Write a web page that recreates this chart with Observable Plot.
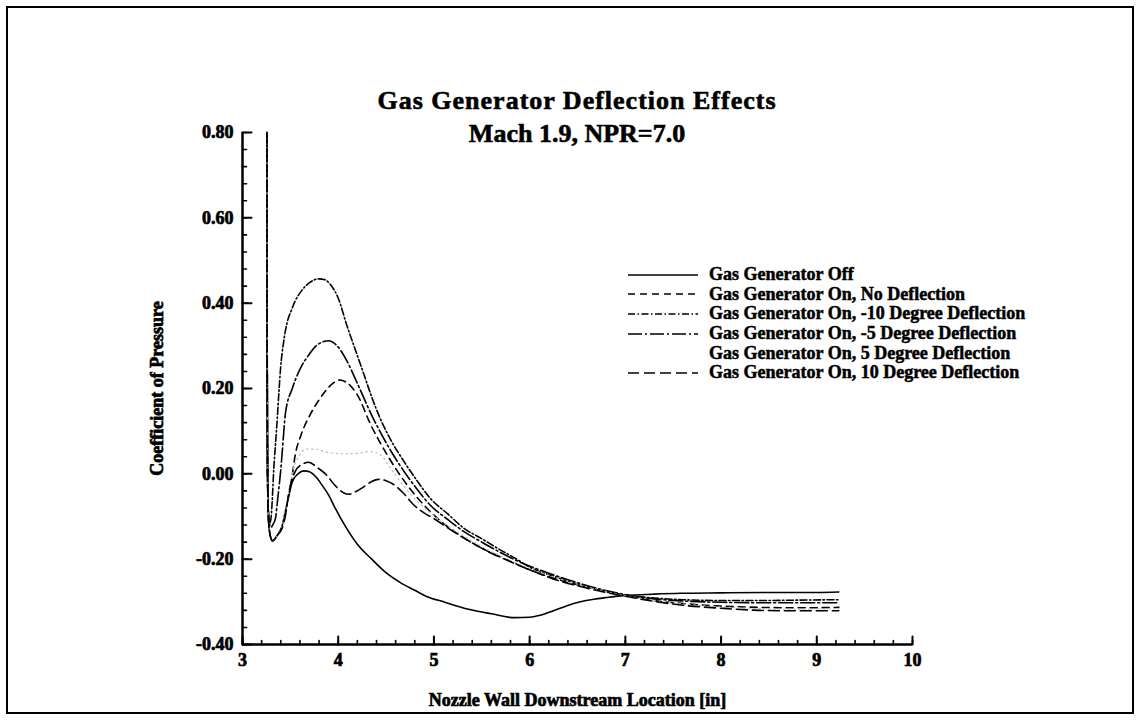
<!DOCTYPE html>
<html>
<head>
<meta charset="utf-8">
<script src="https://cdn.jsdelivr.net/npm/d3@7"></script>
<script src="https://cdn.jsdelivr.net/npm/@observablehq/plot@0.6"></script>
<style>
  html, body { margin: 0; padding: 0; background: #fff; }
  #page { position: relative; width: 1145px; height: 725px; overflow: hidden; background: #fff;
          font-family: "Liberation Serif", "DejaVu Serif", serif; color: #000; }
  #frame { position: absolute; left: 6px; top: 6px; width: 1128px; height: 708px; border: 2.5px solid #000; box-sizing: border-box; }
  .title { position: absolute; left: 242px; width: 670px; text-align: center; font-weight: bold;
           font-size: 26px; line-height: 26px; -webkit-text-stroke: 0.6px #000; white-space: nowrap; }
  #chart { position: absolute; left: 0; top: 115px; }
  #chart svg text { font-weight: bold; paint-order: stroke; stroke: #000; stroke-width: 0.7px; }
  #legend { position: absolute; left: 628px; top: 265px; }
  .row { display: flex; align-items: center; height: 19.6px; }
  .row span { margin-left: 11px; font-size: 18px; font-weight: bold; -webkit-text-stroke: 0.5px #000; white-space: nowrap; }
</style>
</head>
<body>
<div id="page">
  <div id="frame"></div>
  <div class="title" style="top:88px; letter-spacing:1px">Gas Generator Deflection Effects</div>
  <div class="title" style="top:121px">Mach 1.9, NPR=7.0</div>
  <div id="chart"></div>
  <div id="legend"></div>
</div>
<script>
// ---- Data ----
const seriesNames = [
  "Gas Generator Off",
  "Gas Generator On, No Deflection",
  "Gas Generator On, -10 Degree Deflection",
  "Gas Generator On, -5 Degree Deflection",
  "Gas Generator On, 5 Degree Deflection",
  "Gas Generator On, 10 Degree Deflection"
];

const xOff = [3.255,3.258,3.262,3.27,3.29,3.315,3.34,3.37,3.41,3.47,3.52,3.58,3.64,3.70,3.77,3.83,3.90,3.97,4.08,4.20,4.35,4.48,4.65,4.80,4.93,5.10,5.35,5.60,5.84,6.00,6.12,6.25,6.39,6.53,6.67,6.80,6.95,7.10,7.30,7.58,8.00,8.50,9.00,9.23];
const yOff = [0.80,0.30,0.00,-0.10,-0.145,-0.157,-0.152,-0.142,-0.125,-0.065,-0.019,0.0,0.007,0.005,-0.008,-0.026,-0.05,-0.081,-0.125,-0.165,-0.20,-0.228,-0.255,-0.273,-0.288,-0.300,-0.317,-0.328,-0.337,-0.336,-0.331,-0.321,-0.309,-0.300,-0.294,-0.290,-0.286,-0.284,-0.282,-0.280,-0.279,-0.278,-0.278,-0.277];

const xNoDef = [3.255,3.258,3.262,3.27,3.29,3.315,3.34,3.37,3.41,3.47,3.52,3.55,3.61,3.71,3.79,3.87,3.95,4.02,4.10,4.20,4.34,4.51,4.72,4.96,5.15,5.35,5.55,5.75,6.00,6.30,6.60,7.00,7.30,7.60,8.00,8.40,8.80,9.23];
const yNoDef = [0.80,0.30,0.00,-0.10,-0.145,-0.157,-0.152,-0.142,-0.125,-0.065,-0.003,0.043,0.09,0.14,0.17,0.195,0.213,0.22,0.212,0.185,0.115,0.045,-0.026,-0.088,-0.125,-0.155,-0.18,-0.2,-0.225,-0.248,-0.266,-0.285,-0.297,-0.304,-0.310,-0.313,-0.314,-0.313];

const xMinus10 = [3.255,3.258,3.262,3.27,3.285,3.30,3.31,3.327,3.345,3.363,3.38,3.397,3.43,3.467,3.51,3.55,3.62,3.70,3.80,3.86,3.92,4.00,4.09,4.18,4.27,4.35,4.44,4.56,4.69,4.82,4.96,5.15,5.31,5.50,5.66,5.85,6.01,6.25,6.50,6.75,7.00,7.30,7.60,8.00,8.40,8.80,9.23];
const yMinus10 = [0.80,0.30,0.00,-0.08,-0.115,-0.10,-0.065,0.012,0.07,0.129,0.19,0.245,0.31,0.355,0.383,0.405,0.43,0.448,0.457,0.455,0.443,0.412,0.348,0.29,0.232,0.18,0.129,0.075,0.028,-0.015,-0.057,-0.095,-0.127,-0.152,-0.174,-0.198,-0.22,-0.24,-0.258,-0.273,-0.284,-0.291,-0.295,-0.297,-0.297,-0.296,-0.295];

const xMinus5 = [3.255,3.258,3.262,3.27,3.285,3.30,3.32,3.345,3.36,3.38,3.40,3.415,3.45,3.52,3.60,3.69,3.78,3.90,3.98,4.09,4.18,4.27,4.35,4.44,4.56,4.69,4.82,4.96,5.15,5.31,5.50,5.70,5.90,6.10,6.40,6.70,7.00,7.30,7.60,8.00,8.40,8.80,9.23];
const yMinus5 = [0.80,0.30,0.00,-0.09,-0.12,-0.125,-0.118,-0.104,-0.075,-0.034,0.01,0.051,0.144,0.20,0.245,0.278,0.302,0.312,0.302,0.265,0.222,0.177,0.137,0.098,0.05,0.005,-0.035,-0.073,-0.108,-0.135,-0.16,-0.185,-0.207,-0.225,-0.248,-0.268,-0.283,-0.293,-0.298,-0.301,-0.302,-0.302,-0.302];

const xPlus5 = [3.255,3.258,3.262,3.27,3.29,3.315,3.34,3.37,3.41,3.47,3.53,3.60,3.66,3.75,3.89,4.05,4.20,4.32,4.42,4.55,4.70,4.85,5.00,5.20,5.40,5.60,5.80,6.00,6.30,6.60,7.00,7.30,7.60,8.00,8.40,8.80,9.23];
const yPlus5 = [0.80,0.30,0.00,-0.10,-0.145,-0.157,-0.152,-0.142,-0.125,-0.06,0.01,0.045,0.058,0.058,0.05,0.047,0.048,0.052,0.048,0.012,-0.033,-0.07,-0.098,-0.13,-0.158,-0.182,-0.203,-0.222,-0.245,-0.265,-0.285,-0.297,-0.305,-0.312,-0.316,-0.317,-0.316];

const xPlus10 = [3.255,3.258,3.262,3.27,3.29,3.315,3.34,3.37,3.41,3.45,3.48,3.55,3.62,3.69,3.78,3.87,3.97,4.06,4.11,4.18,4.27,4.35,4.42,4.50,4.58,4.68,4.79,4.90,5.00,5.20,5.40,5.60,5.80,6.00,6.30,6.60,7.00,7.30,7.60,8.00,8.40,8.80,9.23];
const yPlus10 = [0.80,0.30,0.00,-0.10,-0.145,-0.157,-0.152,-0.142,-0.13,-0.096,-0.05,0.005,0.022,0.027,0.015,-0.001,-0.028,-0.045,-0.048,-0.042,-0.03,-0.018,-0.013,-0.016,-0.025,-0.045,-0.073,-0.092,-0.105,-0.135,-0.162,-0.186,-0.206,-0.225,-0.25,-0.268,-0.287,-0.299,-0.308,-0.315,-0.320,-0.321,-0.321];

const xDomain = [3, 10];
const yDomain = [-0.4, 0.8];
const xMajor = [3, 4, 5, 6, 7, 8, 9, 10];
const yMajor = [-0.4, -0.2, 0, 0.2, 0.4, 0.6, 0.8];
const xMinor = d3.range(30, 101, 2).map(v => v / 10);
const yMinor = d3.range(-40, 81, 4).map(v => v / 100);
const xTitle = "Nozzle Wall Downstream Location [in]";
const yTitle = "Coefficient of Pressure";

// ---- Styles per series ----
const seriesX = [xOff, xNoDef, xMinus10, xMinus5, xPlus5, xPlus10];
const seriesY = [yOff, yNoDef, yMinus10, yMinus5, yPlus5, yPlus10];
const dashes = [null, "7,5", "7,2.5,1.5,2.5", "14,3,2,3", "1.5,3.5", "11,5"];
const strokes = ["#000", "#000", "#000", "#000", "#bdbdbd", "#000"];
const widths = [1.6, 1.6, 1.6, 1.6, 1.2, 1.6];

const table = seriesNames.flatMap((name, s) =>
  seriesX[s].map((x, i) => ({series: name, x, y: seriesY[s][i]})));

const tickUp = {draw(c, l) { c.moveTo(0, 0); c.lineTo(0, -l); }};
const tickRight = {draw(c, l) { c.moveTo(0, 0); c.lineTo(l, 0); }};

const lineMarks = seriesNames.map((name, s) =>
  Plot.line(table.filter(d => d.series === name), {
    x: "x", y: "y", curve: "monotone-x",
    stroke: strokes[s], strokeWidth: widths[s],
    strokeDasharray: dashes[s] || undefined
  }));

const chart = Plot.plot({
  width: 1145, height: 610,
  marginLeft: 242, marginRight: 233, marginTop: 17, marginBottom: 81,
  style: {background: "transparent", fontFamily: "Liberation Serif, serif", fontSize: "18px", color: "#000"},
  x: {domain: xDomain, label: null},
  y: {domain: yDomain, label: null},
  marks: [
    ...lineMarks,
    Plot.ruleY([yDomain[0]], {strokeWidth: 2.5}),
    Plot.ruleX([xDomain[0]], {strokeWidth: 2.5}),
    Plot.vector(xMinor, {x: d => d, frameAnchor: "bottom", length: 4, anchor: "start", shape: tickUp, strokeWidth: 1.6}),
    Plot.vector(xMajor, {x: d => d, frameAnchor: "bottom", length: 8, anchor: "start", shape: tickUp, strokeWidth: 2}),
    Plot.vector(yMinor, {y: d => d, frameAnchor: "left", length: 4, anchor: "start", shape: tickRight, strokeWidth: 1.6}),
    Plot.vector(yMajor, {y: d => d, frameAnchor: "left", length: 9, anchor: "start", shape: tickRight, strokeWidth: 2}),
    Plot.axisX({ticks: xMajor, tickSize: 0, tickPadding: 9, tickFormat: d => String(d), fontSize: 18, fontWeight: "bold", label: null}),
    Plot.axisY({ticks: yMajor, tickSize: 0, tickPadding: 9, tickFormat: d => d.toFixed(2), fontSize: 18, fontWeight: "bold", label: null}),
    Plot.text([xTitle], {text: d => d, frameAnchor: "bottom", dy: 61, fontSize: 18, fontWeight: "bold", textAnchor: "middle"}),
    Plot.text([yTitle], {text: d => d, frameAnchor: "left", dx: -85, rotate: -90, fontSize: 18, fontWeight: "bold", textAnchor: "middle", lineAnchor: "middle"})
  ]
});
document.getElementById("chart").appendChild(chart);

// ---- Legend ----
const legend = document.getElementById("legend");
seriesNames.forEach((name, s) => {
  const row = document.createElement("div");
  row.className = "row";
  const showSample = s !== 4;
  row.innerHTML = `<svg width="70" height="20"><line x1="0" y1="10" x2="70" y2="10" stroke="${showSample ? "#000" : "none"}" stroke-width="1.6" ${dashes[s] ? `stroke-dasharray="${dashes[s]}"` : ""}/></svg><span></span>`;
  row.querySelector("span").textContent = name;
  legend.appendChild(row);
});
</script>
</body>
</html>
